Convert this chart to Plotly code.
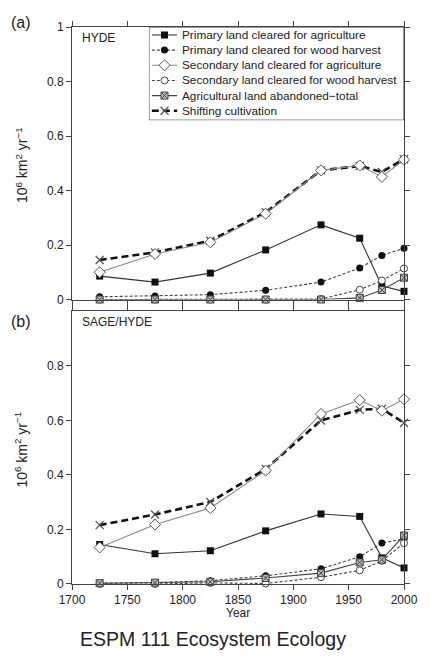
import plotly.graph_objects as go

years = [1725, 1775, 1825, 1875, 1925, 1960, 1980, 2000]

series_names = [
    "Primary land cleared for agriculture",
    "Primary land cleared for wood harvest",
    "Secondary land cleared for agriculture",
    "Secondary land cleared for wood harvest",
    "Agricultural land abandoned\u2212total",
    "Shifting cultivation",
]

# Panel (a) HYDE
hyde_primary_ag = [0.086, 0.064, 0.097, 0.182, 0.274, 0.225, 0.050, 0.030]
hyde_primary_wood = [0.010, 0.013, 0.018, 0.034, 0.064, 0.116, 0.162, 0.188]
hyde_secondary_ag = [0.100, 0.167, 0.210, 0.315, 0.474, 0.492, 0.450, 0.513]
hyde_secondary_wood = [0.000, 0.000, 0.000, 0.000, 0.002, 0.036, 0.070, 0.114]
hyde_abandoned = [0.000, 0.000, 0.000, 0.000, 0.000, 0.006, 0.035, 0.080]
hyde_shifting = [0.145, 0.173, 0.216, 0.320, 0.474, 0.490, 0.468, 0.515]

# Panel (b) SAGE/HYDE
sage_primary_ag = [0.145, 0.111, 0.122, 0.195, 0.257, 0.248, 0.096, 0.059]
sage_primary_wood = [0.003, 0.005, 0.012, 0.030, 0.056, 0.100, 0.150, 0.165]
sage_secondary_ag = [0.134, 0.218, 0.279, 0.416, 0.624, 0.675, 0.636, 0.678]
sage_secondary_wood = [0.000, 0.000, 0.004, 0.002, 0.025, 0.050, 0.085, 0.150]
sage_abandoned = [0.003, 0.005, 0.008, 0.022, 0.040, 0.079, 0.089, 0.178]
sage_shifting = [0.216, 0.255, 0.301, 0.422, 0.600, 0.639, 0.643, 0.591]

FONT = "Liberation Sans, Arial, Helvetica, sans-serif"

styles = [
    dict(line=dict(color="#333333", width=1.1), marker=dict(symbol="square", size=7, color="#111111")),
    dict(line=dict(color="#444444", width=1.1, dash="3px,2px"), marker=dict(symbol="circle", size=7, color="#111111")),
    dict(line=dict(color="#888888", width=1.1), marker=dict(symbol="diamond", size=8.5, color="white", line=dict(color="#555555", width=1))),
    dict(line=dict(color="#444444", width=1.1, dash="3px,2px"), marker=dict(symbol="circle", size=7, color="white", line=dict(color="#444444", width=1))),
    dict(line=dict(color="#444444", width=1.1), marker=dict(symbol="square-x", size=7, color="#bbbbbb", line=dict(color="#444444", width=1))),
    dict(line=dict(color="#111111", width=2.6, dash="7px,4px"), marker=dict(symbol="x-thin-open", size=8, color="#555555", line=dict(color="#555555", width=1.3))),
]

panels = [
    ("x", "y", [hyde_primary_ag, hyde_primary_wood, hyde_secondary_ag, hyde_secondary_wood, hyde_abandoned, hyde_shifting]),
    ("x2", "y2", [sage_primary_ag, sage_primary_wood, sage_secondary_ag, sage_secondary_wood, sage_abandoned, sage_shifting]),
]

fig = go.Figure()
draw_order = [5, 0, 1, 3, 4, 2]
for xa, ya, data in panels:
    for i in draw_order:
        st = styles[i]
        fig.add_trace(go.Scatter(
            x=years, y=data[i], mode="lines+markers", name=series_names[i],
            xaxis=xa, yaxis=ya, showlegend=False, line=st["line"], marker=st["marker"],
            cliponaxis=False,
        ))

# custom legend samples (on a hidden overlay axis in pixel-like units)
row_y = [8, 23.3, 38.6, 53.9, 69.2, 84.5]
for i, ry in enumerate(row_y):
    st = styles[i]
    fig.add_trace(go.Scatter(
        x=[3, 16, 29], y=[ry, ry, ry], mode="lines", xaxis="x3", yaxis="y3",
        showlegend=False, line=st["line"], hoverinfo="skip",
    ))
    fig.add_trace(go.Scatter(
        x=[16], y=[ry], mode="markers", xaxis="x3", yaxis="y3",
        showlegend=False, marker=st["marker"], hoverinfo="skip",
    ))

top_dom = [0.5107, 1.0]
bot_dom = [0.0, 0.4893]

axis_common = dict(
    showline=True, linecolor="#444444", linewidth=1, mirror="ticks", ticks="outside",
    ticklen=5, tickcolor="#444444", showgrid=False, zeroline=False,
    tickfont=dict(family=FONT, size=12, color="#222222"),
)

# page body has an 8px default margin, so the figure is 8px smaller and margins shifted
fig.update_layout(
    width=422, height=652,
    margin=dict(l=64, r=17, t=14, b=76),
    paper_bgcolor="white", plot_bgcolor="white",
    font=dict(family=FONT, color="#222222"),
    showlegend=False,
    xaxis=dict(domain=[0, 1], anchor="y", range=[1700, 2000], dtick=50, showticklabels=False, **axis_common),
    yaxis=dict(domain=top_dom, anchor="x", range=[0, 1], tickvals=[0, 0.2, 0.4, 0.6, 0.8, 1.0],
               ticktext=["0", "0.2", "0.4", "0.6", "0.8", "1"], **axis_common),
    xaxis2=dict(domain=[0, 1], anchor="y2", range=[1700, 2000], dtick=50,
                tickvals=[1700, 1750, 1800, 1850, 1900, 1950, 2000],
                ticktext=["1700", "1750", "1800", "1850", "1900", "1950", "2000"], **axis_common),
    yaxis2=dict(domain=bot_dom, anchor="x2", range=[0, 1], tickvals=[0, 0.2, 0.4, 0.6, 0.8],
                ticktext=["0", "0.2", "0.4", "0.6", "0.8"], **axis_common),
    xaxis3=dict(domain=[0.2317, 1.0], anchor="y3", range=[0, 262], visible=False, fixedrange=True),
    yaxis3=dict(domain=[0.8327, 1.0], anchor="x3", range=[94, 0], visible=False, fixedrange=True),
)

# legend box
fig.add_shape(type="rect", xref="x3", yref="y3", x0=0, x1=262, y0=0, y1=94,
              line=dict(color="#333333", width=1), fillcolor="white", layer="below")

annotations = []
for i, ry in enumerate(row_y):
    annotations.append(dict(xref="x3", yref="y3", x=32, y=ry, text=series_names[i], showarrow=False,
                            xanchor="left", yanchor="middle", font=dict(family=FONT, size=11.8, color="#222222")))

annotations += [
    dict(xref="paper", yref="paper", x=-0.1525, y=1.0089, text="(a)", showarrow=False,
         xanchor="center", yanchor="middle", font=dict(family=FONT, size=16, color="#222222")),
    dict(xref="paper", yref="paper", x=-0.1525, y=0.4715, text="(b)", showarrow=False,
         xanchor="center", yanchor="middle", font=dict(family=FONT, size=16, color="#222222")),
    dict(xref="paper", yref="paper", x=0.0235, y=0.980, text="HYDE", showarrow=False,
         xanchor="left", yanchor="middle", font=dict(family=FONT, size=12, color="#222222")),
    dict(xref="paper", yref="paper", x=0.0235, y=0.4698, text="SAGE/HYDE", showarrow=False,
         xanchor="left", yanchor="middle", font=dict(family=FONT, size=12, color="#222222")),
    dict(xref="paper", yref="paper", x=-0.1525, y=0.7527, text="10<sup>6</sup> km<sup>2</sup> yr<sup>\u22121</sup>",
         showarrow=False, textangle=-90, xanchor="center", yanchor="middle",
         font=dict(family=FONT, size=14, color="#222222")),
    dict(xref="paper", yref="paper", x=-0.1525, y=0.242, text="10<sup>6</sup> km<sup>2</sup> yr<sup>\u22121</sup>",
         showarrow=False, textangle=-90, xanchor="center", yanchor="middle",
         font=dict(family=FONT, size=14, color="#222222")),
    dict(xref="paper", yref="paper", x=0.5, y=-0.0516, text="Year", showarrow=False,
         xanchor="center", yanchor="middle", font=dict(family=FONT, size=12, color="#222222")),
    dict(xref="paper", yref="paper", x=0.425, y=-0.0996, text="ESPM 111 Ecosystem Ecology", showarrow=False,
         xanchor="center", yanchor="middle", font=dict(family=FONT, size=19.5, color="#222222")),
]
fig.update_layout(annotations=annotations)

fig.write_html("out.html")
